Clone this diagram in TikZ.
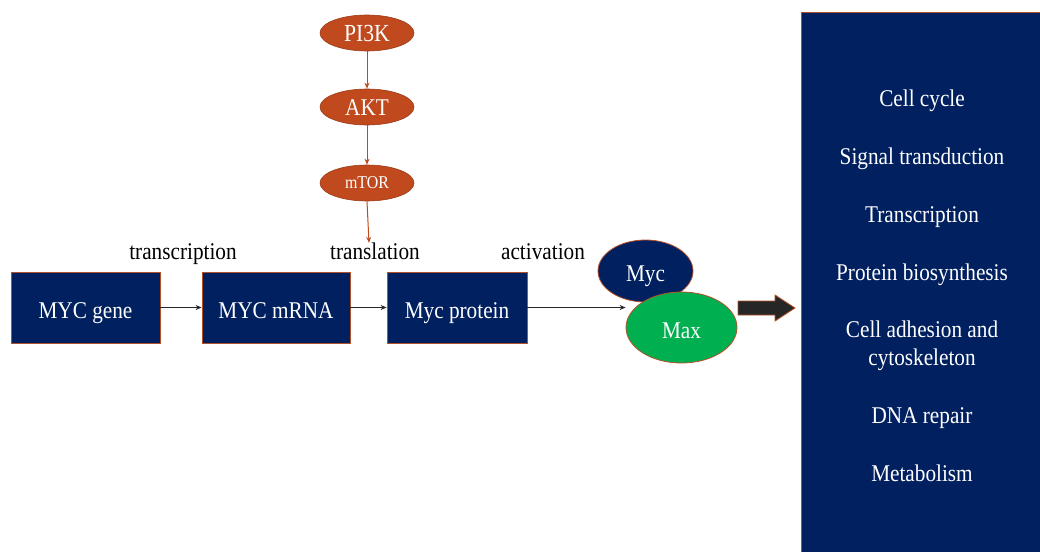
\documentclass[tikz,border=0pt]{standalone}
\usepackage{fontspec}
\setmainfont{Liberation Serif}[FakeStretch=0.885]
\usetikzlibrary{arrows.meta,shapes.geometric}
\definecolor{navy}{RGB}{0,32,96}
\definecolor{rust}{RGB}{192,74,30}
\definecolor{edge}{RGB}{180,80,40}
\definecolor{maxgreen}{RGB}{0,176,80}
\definecolor{ink}{RGB}{38,38,38}
\tikzset{
  txt/.style={font=\fontsize{24}{28}\selectfont},
  boxtxt/.style={txt, text height=21pt, text depth=0pt},
  stage/.style={draw=edge, line width=0.8pt, fill=navy, text=white, boxtxt,
    minimum height=71, inner sep=0},
  kinase/.style={ellipse, draw=rust!80!black, line width=0.6pt, fill=rust,
    text=white, minimum width=94, minimum height=36, inner sep=0, text depth=0pt},
  blob/.style={ellipse, draw=edge, line width=0.8pt, text=white, boxtxt, inner sep=0},
  flow/.style={-{Stealth[length=6pt,width=5pt]}, line width=1pt, ink},
  signal/.style={-{Stealth[length=6pt,width=5pt]}, line width=1pt, rust},
  effect/.style={txt, text=white, anchor=base}
}
\begin{document}
\begin{tikzpicture}[x=1pt,y=-1pt]
\useasboundingbox (0,0) rectangle (1040,551);
\fill[white] (0,0) rectangle (1040,551);

% pathway boxes
\node[stage, minimum width=149] (gene) at (85.5,307.5) {MYC gene};
\node[stage, minimum width=148] (mrna) at (276,307.5) {MYC mRNA};
\node[stage, minimum width=140] (prot) at (457,307.5) {Myc protein};

% step labels
\node[txt, anchor=base] (trc) at (183,259) {transcription};
\node[txt, anchor=base] (trl) at (375,259) {translation};
\node[txt, anchor=base] (act) at (543,259) {activation};

% PI3K / AKT / mTOR cascade
\node[kinase, font=\fontsize{24.5}{28}\selectfont, text height=17pt] (pi3k) at (367,33) {PI3K};
\node[kinase, font=\fontsize{24}{28}\selectfont, text height=16pt] (akt) at (367,107) {AKT};
\node[kinase, font=\fontsize{18}{21}\selectfont, text height=10pt] (mtor) at (367,183) {mTOR};
\draw[signal] (pi3k) -- (akt);
\draw[signal] (akt) -- (mtor);
\draw[signal] (mtor.south) -- ([xshift=2pt,yshift=-4pt]mtor.south |- trl.north);

% Myc/Max dimer
\node[blob, fill=navy, minimum width=95, minimum height=62] (myc) at (645.5,271) {Myc};
\node[blob, fill=maxgreen, minimum width=111, minimum height=71] (max) at (681.5,327.5) {Max};

% connectors along the pathway
\draw[flow] (gene) -- (mrna);
\draw[flow] (mrna) -- (prot);
\draw[flow] (prot.east) -- (prot.east -| max.west);

% block arrow towards the target list
\filldraw[draw=edge, line width=0.8pt, fill=ink]
  (738,301) -- (775,301) -- (775,295) -- (795,308) -- (775,321)
  -- (775,315) -- (738,315) -- cycle;

% panel of MYC target functions
\node[draw=edge, line width=0.8pt, fill=navy, minimum width=245,
  minimum height=545, anchor=north west, inner sep=0] (panel) at (801,12) {};
\node[effect] (e1) at (922,106) {Cell cycle};
\node[effect] (e2) at (922,164) {Signal transduction};
\node[effect] (e3) at (922,222) {Transcription};
\node[effect] (e4) at (922,280) {Protein biosynthesis};
\node[effect] (e5a) at (922,337) {Cell adhesion and};
\node[effect] (e5b) at (922,365) {cytoskeleton};
\node[effect] (e6) at (922,423) {DNA repair};
\node[effect] (e7) at (922,481) {Metabolism};
\end{tikzpicture}
\end{document}
